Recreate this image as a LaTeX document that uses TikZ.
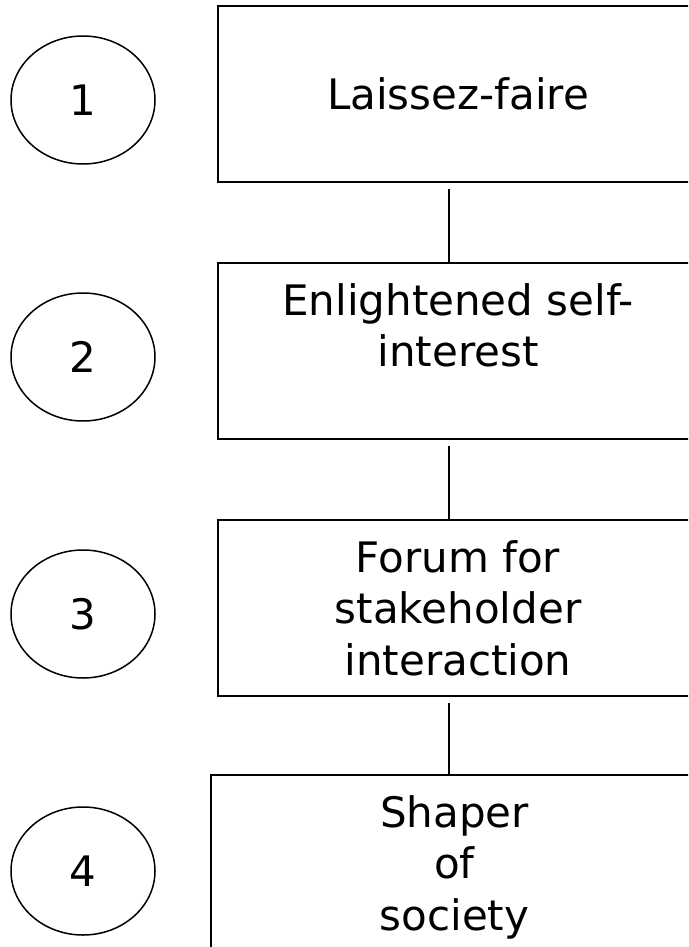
\documentclass[tikz,border=0pt]{standalone}
\usepackage{fontspec}
\setmainfont{DejaVu Sans}
\usetikzlibrary{shapes.geometric,calc}

\tikzset{
  stage/.style={draw, line width=1.8pt, rectangle, inner sep=0pt,
    minimum width=480pt, minimum height=176pt, align=center,
    text depth=0pt, font=\fontsize{42}{51.5}\selectfont},
  badge/.style={draw, line width=1.5pt, ellipse, inner sep=0pt,
    minimum width=144pt, minimum height=128pt,
    font=\fontsize{42}{51.5}\selectfont},
  link/.style={line width=1.8pt}
}

\begin{document}
\begin{tikzpicture}[x=1pt, y=-1pt]
  \useasboundingbox (0,0) rectangle (688,947);
  \begin{scope}
    \clip (0,0) rectangle (688,947);

    % stage boxes (they run past the right and bottom edges)
    \node[stage] (b1) at (458,94)  {Laissez-faire};
    \node[stage] (b2) at (458,351) {Enlightened self-\\interest\\~};
    \node[stage] (b3) at (458,608) {Forum for\\stakeholder\\interaction};
    \node[stage, minimum width=487pt] (b4) at (454.5,863) {Shaper\\of\\society};

    % numbered badges
    \node[badge] (n1) at (83,100) {1};
    \node[badge] (n2) at (83,357) {2};
    \node[badge] (n3) at (83,614) {3};
    \node[badge] (n4) at (83,871) {4};

    % vertical links between the stages
    \coordinate (spine) at (449,0);
    \draw[link] ($(b1.south -| spine)+(0,6)$) -- (b2.north -| spine);
    \draw[link] ($(b2.south -| spine)+(0,6)$) -- (b3.north -| spine);
    \draw[link] ($(b3.south -| spine)+(0,6)$) -- (b4.north -| spine);
  \end{scope}
\end{tikzpicture}
\end{document}
